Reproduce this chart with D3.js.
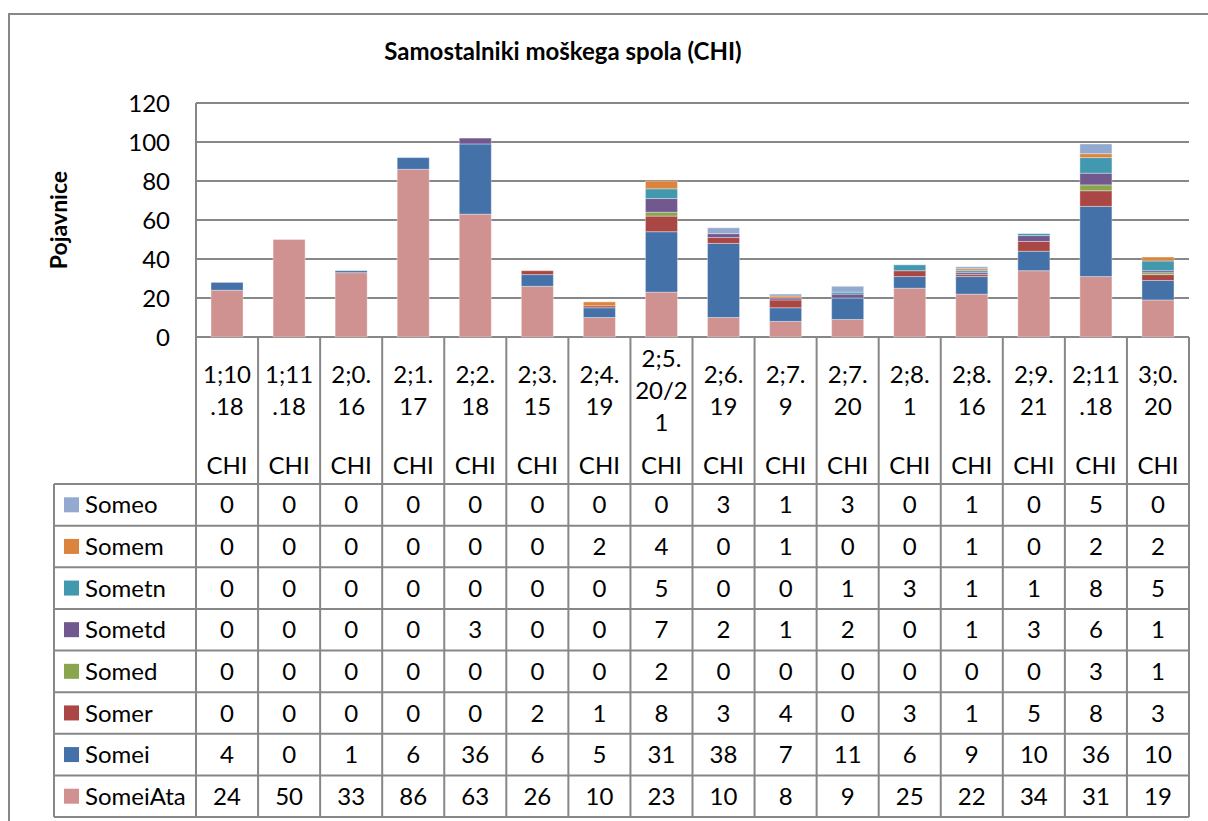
<!DOCTYPE html>
<html>
<head>
<meta charset="utf-8">
<script src="https://cdn.jsdelivr.net/npm/d3@7"></script>
<style>
  html, body { margin: 0; padding: 0; background: #fff; }
  svg { display: block; font-family: Lato, "Open Sans", sans-serif; }
</style>
</head>
<body>
<svg id="chart" width="1208" height="821"></svg>
<script>
// ---- data ----
const title = "Samostalniki moškega spola (CHI)";
const yAxisTitle = "Pojavnice";
const categories = ["1;10.18","1;11.18","2;0.16","2;1.17","2;2.18","2;3.15","2;4.19","2;5.20/21",
                    "2;6.19","2;7.9","2;7.20","2;8.1","2;8.16","2;9.21","2;11.18","3;0.20"];
const speaker = "CHI";
const yTicks = [0, 20, 40, 60, 80, 100, 120];
const seriesNames = ["SomeiAta","Somei","Somer","Somed","Sometd","Sometn","Somem","Someo"]; // bottom -> top
const seriesColors = ["#D09290","#4472A8","#AA4643","#89A54E","#71588F","#4198AF","#DB843D","#93A9CF"];
const someiAta = [24,50,33,86,63,26,10,23,10,8,9,25,22,34,31,19];
const somei    = [4,0,1,6,36,6,5,31,38,7,11,6,9,10,36,10];
const somer    = [0,0,0,0,0,2,1,8,3,4,0,3,1,5,8,3];
const somed    = [0,0,0,0,0,0,0,2,0,0,0,0,0,0,3,1];
const sometd   = [0,0,0,0,3,0,0,7,2,1,2,0,1,3,6,1];
const sometn   = [0,0,0,0,0,0,0,5,0,0,1,3,1,1,8,5];
const somem    = [0,0,0,0,0,0,2,4,0,1,0,0,1,0,2,2];
const someo    = [0,0,0,0,0,0,0,0,3,1,3,0,1,0,5,0];
const seriesValues = [someiAta, somei, somer, somed, sometd, sometn, somem, someo];

// ---- layout ----
const svg = d3.select("#chart");
const plotL = 196, plotR = 1189, plotT = 103, plotB = 337;
const tableLegL = 54, headerB = 484, tableB = 817;
const rowH = (tableB - headerB) / seriesNames.length;
const gridColor = "#878787";
const fontSize = 24;

// outer chart border
svg.append("rect").attr("x", 9).attr("y", 14).attr("width", 1220).attr("height", 830)
  .attr("fill", "none").attr("stroke", gridColor).attr("stroke-width", 2);

// title
svg.append("text").attr("x", 563).attr("y", 60).attr("text-anchor", "middle")
  .attr("font-size", 24).attr("font-weight", "bold").attr("fill", "#000").text(title);

const x = d3.scaleBand().domain(categories).range([plotL, plotR]).paddingInner(0.484).paddingOuter(0.242);
const xc = d3.scaleBand().domain(categories).range([plotL, plotR]).padding(0);
const y = d3.scaleLinear().domain([0, 120]).range([plotB, plotT]);

// gridlines
svg.append("g").selectAll("line").data(yTicks).join("line")
  .attr("x1", plotL).attr("x2", plotR).attr("y1", d => y(d)).attr("y2", d => y(d))
  .attr("stroke", gridColor).attr("stroke-width", 2);

// y axis line
svg.append("line").attr("x1", plotL).attr("x2", plotL).attr("y1", plotT).attr("y2", plotB)
  .attr("stroke", gridColor).attr("stroke-width", 2);

// y tick labels
svg.append("g").selectAll("text").data(yTicks).join("text")
  .attr("x", 170).attr("y", d => y(d)).attr("dy", "0.36em").attr("text-anchor", "end")
  .attr("font-size", fontSize).attr("fill", "#000").text(d => d);

// y axis title
svg.append("text").attr("transform", "translate(67,220) rotate(-90)").attr("text-anchor", "middle")
  .attr("font-size", 23).attr("font-weight", "bold").attr("fill", "#000").text(yAxisTitle);

// stacked bars
const rows = categories.map((c, i) => {
  const o = { cat: c };
  seriesNames.forEach((s, k) => o[s] = seriesValues[k][i]);
  return o;
});
const stacked = d3.stack().keys(seriesNames)(rows);
svg.append("g").selectAll("g").data(stacked).join("g")
  .attr("fill", (d, i) => seriesColors[i])
  .selectAll("rect").data(d => d.filter(p => p[1] - p[0] > 0)).join("rect")
  .attr("x", d => x(d.data.cat)).attr("width", x.bandwidth())
  .attr("y", d => y(d[1])).attr("height", d => y(d[0]) - y(d[1]))
  .attr("stroke", "rgba(255,255,255,0.35)").attr("stroke-width", 1);

// ---- data table ----
const tg = svg.append("g");
// header category labels
const lineH = 32, labelCenter = 390;
categories.forEach(c => {
  const parts = c.match(/.{1,4}/g);
  const cx = xc(c) + xc.bandwidth() / 2;
  parts.forEach((p, j) => {
    tg.append("text").attr("x", cx)
      .attr("y", labelCenter + (j - (parts.length - 1) / 2) * lineH).attr("dy", "0.36em")
      .attr("text-anchor", "middle").attr("font-size", fontSize).attr("fill", "#000").text(p);
  });
  tg.append("text").attr("x", cx).attr("y", 465).attr("dy", "0.36em")
    .attr("text-anchor", "middle").attr("font-size", fontSize).attr("fill", "#000").text(speaker);
});

// table rows (top: last series)
const tableOrder = seriesNames.map((s, k) => k).reverse();
tableOrder.forEach((k, r) => {
  const cy = headerB + rowH * r + rowH / 2;
  tg.append("rect").attr("x", 64).attr("y", cy - 7.5).attr("width", 15).attr("height", 15)
    .attr("fill", seriesColors[k]);
  tg.append("text").attr("x", 85).attr("y", cy).attr("dy", "0.36em")
    .attr("font-size", fontSize).attr("fill", "#000").text(seriesNames[k]);
  categories.forEach((c, i) => {
    tg.append("text").attr("x", xc(c) + xc.bandwidth() / 2).attr("y", cy).attr("dy", "0.36em")
      .attr("text-anchor", "middle").attr("font-size", fontSize).attr("fill", "#000")
      .text(seriesValues[k][i]);
  });
});

// table grid lines
const hLines = d3.range(seriesNames.length + 1).map(r => headerB + rowH * r);
tg.selectAll("line.h").data(hLines).join("line").attr("class", "h")
  .attr("x1", tableLegL).attr("x2", plotR).attr("y1", d => d).attr("y2", d => d)
  .attr("stroke", gridColor).attr("stroke-width", 2);
const vLines = categories.map(c => xc(c)).concat([plotR]);
tg.selectAll("line.v").data(vLines).join("line").attr("class", "v")
  .attr("x1", d => d).attr("x2", d => d).attr("y1", plotB).attr("y2", tableB)
  .attr("stroke", gridColor).attr("stroke-width", 2);
tg.append("line").attr("x1", tableLegL).attr("x2", tableLegL).attr("y1", headerB).attr("y2", tableB)
  .attr("stroke", gridColor).attr("stroke-width", 2);
</script>
</body>
</html>
